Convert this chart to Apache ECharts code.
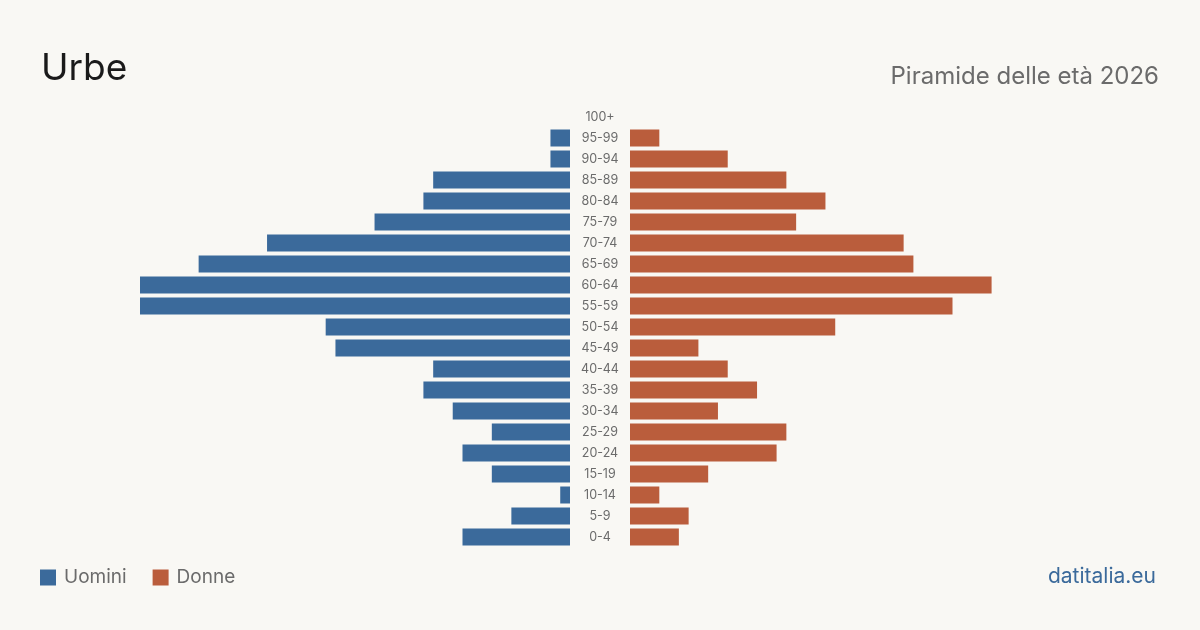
<!DOCTYPE html>
<html><head><meta charset="utf-8">
<script src="https://cdn.jsdelivr.net/npm/echarts@6/dist/echarts.min.js"></script>
<style>html,body{margin:0;padding:0;background:#f9f8f4}#c{width:1200px;height:630px}</style>
</head><body><div id="c"></div>
<script>
const categories = ['0-4','5-9','10-14','15-19','20-24','25-29','30-34','35-39','40-44','45-49','50-54','55-59','60-64','65-69','70-74','75-79','80-84','85-89','90-94','95-99','100+'];
const uomini = [11,6,1,8,11,8,12,15,14,24,25,44,44,38,31,20,15,14,2,2,0];
const donne  = [5,6,3,8,15,16,9,13,10,7,21,33,37,29,28,17,20,16,10,3,0];
const xMax = 44;
const BLUE = '#3b6a9b', RED = '#ba5d3c';
const FONT = 'Inter, "Noto Sans", sans-serif';
const chart = echarts.init(document.getElementById('c'));
chart.setOption({
  backgroundColor: '#f9f8f4',
  animation: false,
  textStyle: {fontFamily: FONT},
  title: [
    {text: 'Urbe', left: 41, top: 50, padding: 0, textStyle: {fontFamily: FONT, fontSize: 37, fontWeight: 'normal', color: '#1a1a1a'}},
    {text: 'Piramide delle età 2026', right: 41, top: 65, padding: 0, textStyle: {fontFamily: FONT, fontSize: 24, fontWeight: 'normal', color: '#6b6b6b'}},
    {text: 'datitalia.eu', right: 44, top: 566, padding: 0, textStyle: {fontFamily: FONT, fontSize: 21, fontWeight: 'normal', color: '#3b6a9b'}}
  ],
  legend: {
    left: 40, top: 568, padding: 0, itemWidth: 16, itemHeight: 16, itemGap: 26, icon: 'rect',
    textStyle: {fontFamily: FONT, fontSize: 19, color: '#6b6b6b', padding: [0,0,0,3]},
    data: ['Uomini', 'Donne']
  },
  grid: [
    {left: 140, width: 430, top: 106.5, height: 441},
    {left: 630, width: 430, top: 106.5, height: 441}
  ],
  xAxis: [
    {gridIndex: 0, type: 'value', min: 0, max: xMax, inverse: true, show: false},
    {gridIndex: 1, type: 'value', min: 0, max: xMax, show: false}
  ],
  yAxis: [
    {gridIndex: 0, type: 'category', data: categories, show: false},
    {gridIndex: 1, type: 'category', data: categories, position: 'left',
     axisLine: {show: false}, axisTick: {show: false},
     axisLabel: {show: true, margin: 30, align: 'center', fontFamily: FONT, fontSize: 12.5, color: '#6b6b6b'}}
  ],
  series: [
    {name: 'Uomini', type: 'bar', xAxisIndex: 0, yAxisIndex: 0, data: uomini, barWidth: 17, itemStyle: {color: BLUE}},
    {name: 'Donne', type: 'bar', xAxisIndex: 1, yAxisIndex: 1, data: donne, barWidth: 17, itemStyle: {color: RED}}
  ]
});
</script></body></html>
